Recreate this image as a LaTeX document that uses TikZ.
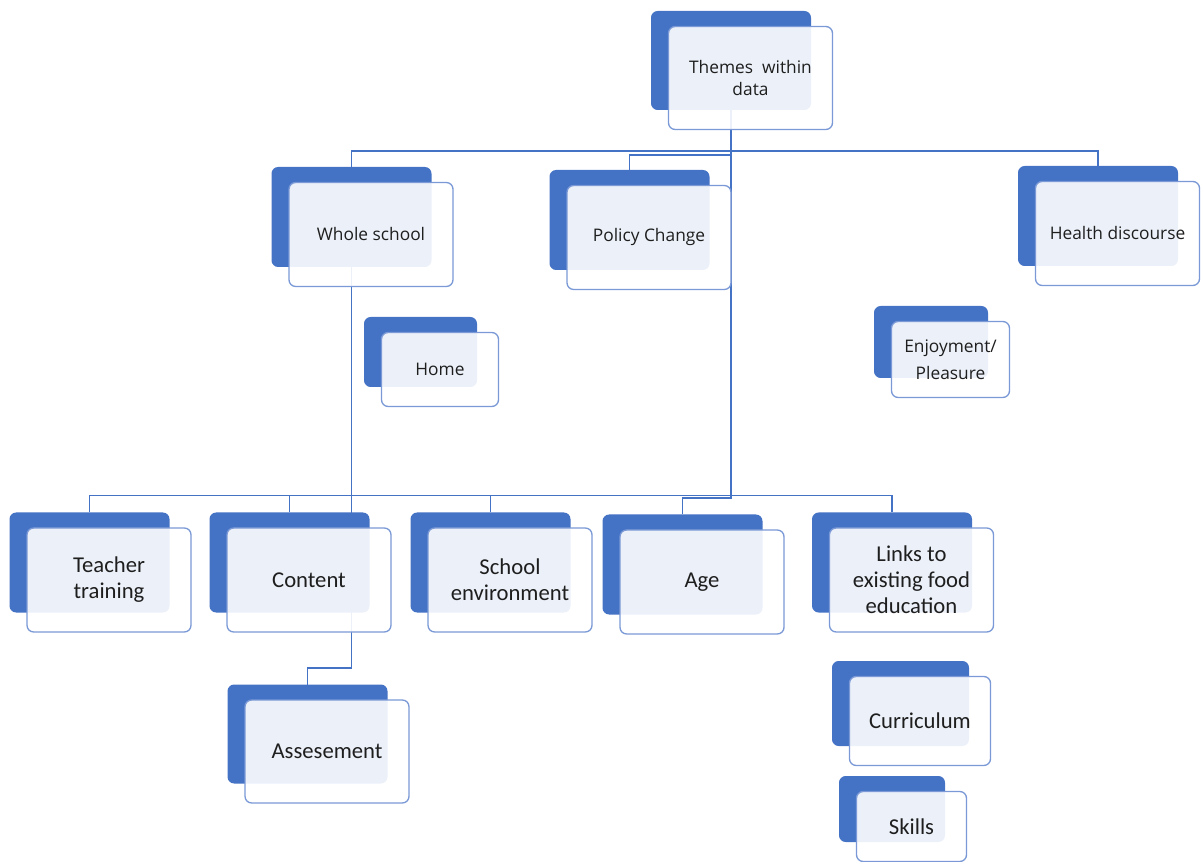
\documentclass[tikz,border=0pt]{standalone}
\usepackage{fontspec}
\setmainfont{Carlito}
\newfontfamily\topfont{Open Sans}
\usetikzlibrary{backgrounds}
\definecolor{cardblue}{RGB}{68,114,196}
\definecolor{cardline}{RGB}{122,153,214}
\definecolor{cardtext}{RGB}{30,30,30}
\tikzset{
  back/.style={fill=cardblue, rounded corners=5pt, inner sep=0pt, outer sep=0pt},
  front/.style={draw=cardline, line width=1pt, fill=white, fill opacity=0.9,
    text opacity=1, text=cardtext, rounded corners=5pt, inner sep=0pt,
    outer sep=0pt, align=center},
  big/.style={font=\fontsize{17}{19.5}\selectfont},
  small/.style={font=\topfont\fontsize{13}{16.5}\selectfont},
  link/.style={draw=cardblue, line width=0.9pt},
  trunk/.style={draw=cardblue, line width=1.4pt},
}
% one card: name, centre of back box, width, height, text style, text
\newcommand\Card[6]{%
  \node[back, minimum width=#3*0.75pt, minimum height=#4*0.75pt] (#1-b) at #2 {};
  \node[front, #5, minimum width=#3*0.75pt+3pt, minimum height=#4*0.75pt+3pt]
    (#1) at ([shift={(19.5,17.5)}]#1-b.center) {#6};
}

\begin{document}
\begin{tikzpicture}[x=0.75pt, y=-0.75pt]
  \useasboundingbox (0,0) rectangle (1203,862);

  \Card{th}{(731,60.5)}{160}{99}{small}{Themes \ within\\data}
  \Card{ws}{(351.5,217)}{160}{100}{small}{Whole school}
  \Card{pc}{(629.5,220)}{160}{100}{small}{Policy Change}
  \Card{hd}{(1098,216)}{160}{100}{small}{Health discourse}
  \Card{hm}{(420.5,352)}{113}{70}{small}{Home}
  \Card{ej}{(931,342)}{114}{72}{small, font=\topfont\fontsize{13}{20}\selectfont}{Enjoyment/\\Pleasure}

  \Card{tt}{(89.5,562.5)}{160}{100}{big}{Teacher\\training}
  \Card{ct}{(289.5,562.5)}{160}{100}{big}{Content}
  \Card{se}{(490.5,562.5)}{160}{100}{big}{School\\environment}
  \Card{ag}{(682.5,564.5)}{160}{100}{big}{Age}
  \Card{lk}{(892,562.5)}{160}{100}{big}{Links to\\existing food\\education}
  \Card{as}{(307.5,734)}{160}{99}{big}{Assesement}
  \Card{cu}{(900.5,703.5)}{137}{85}{big}{Curriculum}
  \Card{sk}{(892,809)}{106}{66}{big}{Skills}

  \begin{scope}[on background layer]
    \draw[link] (ws-b.north) -- ++(0,-16) -| (hd-b.north);
    \draw[link] (pc-b.north) -- ++(0,-15) -| (th-b.south);
    \draw[trunk] (th-b.south) -- ++(0,388) -| (ag-b.north);
    \draw[trunk] (ws-b.south) -- ++(0,401) -| (as-b.north);
    \draw[link] (tt-b.north) -- ++(0,-17) -| (lk-b.north);
    \draw[link] (ct-b.north) -- ++(0,-17);
    \draw[link] (se-b.north) -- ++(0,-17);
  \end{scope}
\end{tikzpicture}
\end{document}
